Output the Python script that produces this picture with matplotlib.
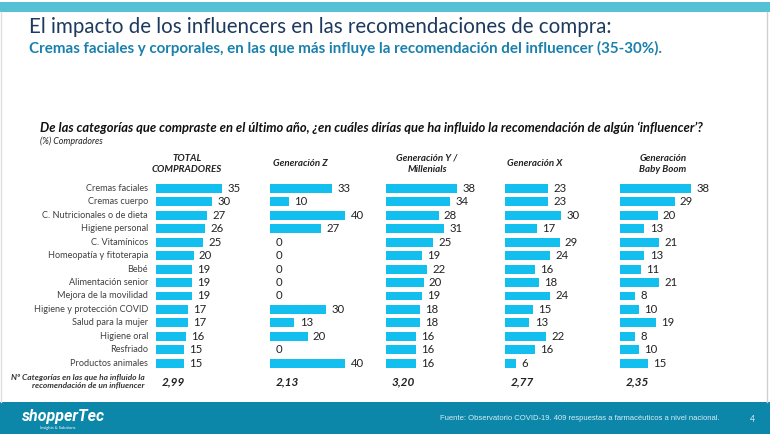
import matplotlib.pyplot as plt
from matplotlib.lines import Line2D
from matplotlib.patches import Rectangle

plt.rcParams["font.family"] = ["Lato", "DejaVu Sans"]

W, H = 770, 434

categories = [
    "Cremas faciales", "Cremas cuerpo", "C. Nutricionales o de dieta",
    "Higiene personal", "C. Vitamínicos", "Homeopatía y fitoterapia", "Bebé",
    "Alimentación senior", "Mejora de la movilidad", "Higiene y protección COVID",
    "Salud para la mujer", "Higiene oral", "Resfriado", "Productos animales",
]
total = [35, 30, 27, 26, 25, 20, 19, 19, 19, 17, 17, 16, 15, 15]
gen_z = [33, 10, 40, 27, 0, 0, 0, 0, 0, 30, 13, 20, 0, 40]
gen_y = [38, 34, 28, 31, 25, 19, 22, 20, 19, 18, 18, 16, 16, 16]
gen_x = [23, 23, 30, 17, 29, 24, 16, 18, 24, 15, 13, 22, 16, 6]
baby_boom = [38, 29, 20, 13, 21, 13, 11, 21, 8, 10, 19, 8, 10, 15]
headers = ["TOTAL\nCOMPRADORES", "Generación Z", "Generación Y /\nMillenials",
           "Generación X", "Generación\nBaby Boom"]
mean_categories = [2.99, 2.13, 3.20, 2.77, 2.35]

BAR = "#12bfef"
NAVY = "#1d3a5e"
TEAL = "#1a80ad"
BAND = "#0c87a9"

fig = plt.figure(figsize=(W / 100, H / 100), dpi=100)


def px_axes(x0, y0, w, h):
    return fig.add_axes([x0 / W, 1 - (y0 + h) / H, w / W, h / H])


def fx(x):
    return x / W


def fy(y):
    return 1 - y / H


# bands and frame
fig.add_artist(Rectangle((0, fy(12)), 1, (12 - 2) / H, color="#56c1d5", lw=0))
fig.add_artist(Rectangle((0, 0), 1, (H - 402) / H, color=BAND, lw=0))
fig.add_artist(Line2D([fx(767), fx(767)], [fy(402), fy(12)], color="#d0d0d0", lw=1))
fig.add_artist(Line2D([fx(1), fx(1)], [fy(402), fy(12)], color="#e0e0e0", lw=1))

fig.text(fx(29), fy(27), "El impacto de los influencers en las recomendaciones de compra:",
         color=NAVY, fontsize=14.8, va="center", ha="left")
fig.text(fx(29), fy(48),
         "Cremas faciales y corporales, en las que más influye la recomendación del influencer (35-30%).",
         color=TEAL, fontsize=10.9, fontweight="bold", va="center", ha="left")
fig.text(fx(40), fy(128),
         "De las categorías que compraste en el último año, ¿en cuáles dirías que ha influido la "
         "recomendación de algún ‘influencer’?",
         color="#111111", fontsize=9.35, fontweight="bold", fontstyle="italic", va="center")
fig.text(fx(40), fy(141), "(%) Compradores", color="#222222", fontsize=6.4,
         fontstyle="italic", va="center")

# column layout: bar start x, header x, header alignment
cols = [
    (total, 156, 187, "center"),
    (gen_z, 270, 273, "left"),
    (gen_y, 386, 427, "center"),
    (gen_x, 505, 507, "left"),
    (baby_boom, 620, 663, "center"),
]
SCALE = 1.88  # px per percentage point
ROW = 13.46
Y0 = 188.3

for k, (vals, x0, hx, ha) in enumerate(cols):
    ax = px_axes(x0, Y0 - ROW / 2, 50 * SCALE, ROW * len(categories))
    ax.set_xlim(0, 50)
    ax.set_ylim(len(categories) - 0.5, -0.5)
    ax.axis("off")
    ypos = list(range(len(categories)))
    ax.barh(ypos, vals, height=0.66, color=BAR, lw=0)
    for i, v in enumerate(vals):
        ax.annotate(str(v), xy=(v, i), xytext=(3.8, 0), textcoords="offset points",
                    va="center", ha="left", fontsize=8.2, color="#222222")
    if k == 0:
        for i, c in enumerate(categories):
            ax.annotate(c, xy=(0, i), xytext=(-5.8, 0), textcoords="offset points",
                        va="center", ha="right", fontsize=6.6, color="#404040")
    fig.text(fx(hx), fy(164), headers[k], ha=ha, va="center", fontsize=7,
             fontweight="bold", fontstyle="italic", color="#222222", linespacing=1.35)
    fig.text(fx(x0 + 6), fy(381.5), f"{mean_categories[k]:.2f}".replace(".", ","),
             ha="left", va="center", fontsize=8.5, fontweight="bold", fontstyle="italic",
             color="#222222")

fig.text(fx(145), fy(381.5), "Nº Categorías en las que ha influido la\nrecomendación de un influencer",
         ha="right", va="center", fontsize=6, fontweight="bold", fontstyle="italic",
         color="#333333", linespacing=1.3)

# footer
fig.text(fx(22), fy(416), "shopperTec", color="white", fontsize=11.5, fontweight="bold",
         fontstyle="italic", va="center", ha="left", family=["Roboto", "DejaVu Sans"])
fig.text(fx(40), fy(427.5), "Insights & Solutions", color="white", fontsize=3,
         va="center", ha="left")
fig.text(fx(440), fy(419),
         "Fuente: Observatorio COVID-19. 409 respuestas a farmacéuticos a nivel nacional.",
         color="#d8eef5", fontsize=5.5, va="center", ha="left", family=["Liberation Sans"])
fig.text(fx(752), fy(419), "4", color="#d8eef5", fontsize=6.4, va="center", ha="center")

fig.savefig("out.png", dpi=100)
